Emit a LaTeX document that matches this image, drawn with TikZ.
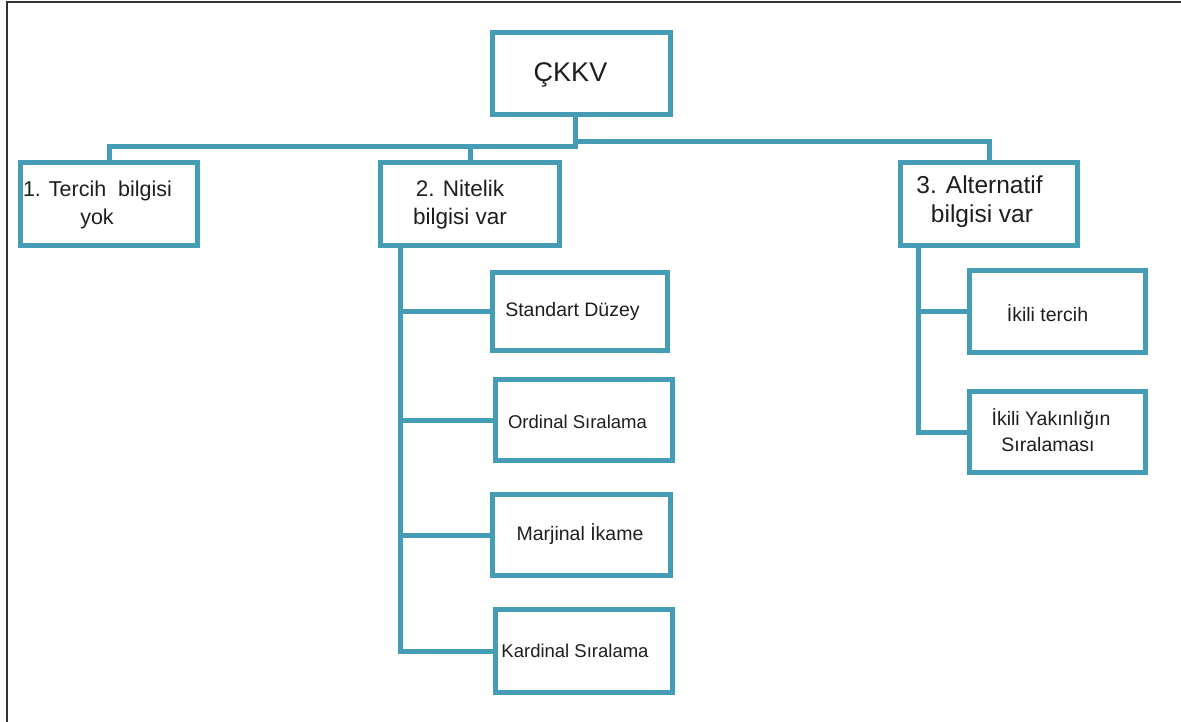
\documentclass[tikz,border=0pt]{standalone}
\usepackage{fontspec}
\setmainfont{Liberation Sans}
\begin{document}
\begin{tikzpicture}[x=1pt,y=-1pt,
  every node/.style={inner sep=0pt,outer sep=0pt},
  box/.style={draw=teal1,line width=5pt,fill=white,rectangle},
  conn/.style={draw=teal1,line width=5pt},
  lbl/.style={anchor=base,text=txt},
  fa/.style={font=\fontsize{27}{32}\selectfont},
  fb/.style={font=\fontsize{21.5}{26}\selectfont},
  fc/.style={font=\fontsize{22.5}{27}\selectfont},
  fd/.style={font=\fontsize{24.5}{29}\selectfont},
  fe/.style={font=\fontsize{19.5}{23}\selectfont},
  ff/.style={font=\fontsize{18.5}{22}\selectfont}]
\definecolor{teal1}{RGB}{68,156,182}
\definecolor{txt}{RGB}{30,30,30}
\definecolor{frame}{RGB}{50,50,50}
\useasboundingbox (0,0) rectangle (1181,722);

% frame edges
\draw[frame,line width=2pt] (7,1) -- (7,722);
\draw[frame,line width=2pt] (6,2) -- (1181,2);

% boxes (outer size minus line width)
\node[box,minimum width=178,minimum height=82] (root) at (581.5,73.5) {};
\node[box,minimum width=177,minimum height=83] (b1) at (109,204) {};
\node[box,minimum width=179,minimum height=83] (b2) at (470,204) {};
\node[box,minimum width=177,minimum height=83] (b3) at (989,204) {};
\node[box,minimum width=175,minimum height=78] (s1) at (580,311.5) {};
\node[box,minimum width=177,minimum height=81] (s2) at (584,420) {};
\node[box,minimum width=178,minimum height=81] (s3) at (581.5,535) {};
\node[box,minimum width=177,minimum height=83] (s4) at (584,651) {};
\node[box,minimum width=176,minimum height=82] (a1) at (1057.5,311.5) {};
\node[box,minimum width=176,minimum height=81] (a2) at (1057.5,432) {};

% junctions and trunks
\coordinate (jl) at (575,147);
\coordinate (jr) at (575,142);
\coordinate (t2) at (400,0);
\coordinate (t3) at (918,0);

% top level connectors
\draw[conn] (root.south -| jl) -- (jl) -| (b1.north);
\draw[conn] (jl) -| (b2.north);
\draw[conn] (jr) -| (b3.north);

% attribute branch
\draw[conn] (b2.south -| t2) |- (s4.west);
\draw[conn] (s1.west -| t2) -- (s1.west);
\draw[conn] (s2.west -| t2) -- (s2.west);
\draw[conn] (s3.west -| t2) -- (s3.west);

% alternative branch
\draw[conn] (b3.south -| t3) |- (a2.west);
\draw[conn] (a1.west -| t3) -- (a1.west);

% texts
\node[lbl,fa] (rootT) at (570.5,82) {ÇKKV};
\node[lbl,fb] (b1T1) at (97.5,197) {1. Tercih\ \ bilgisi};
\node[lbl,fb] (b1T2) at (97,225) {yok};
\node[lbl,fc] (b2T1) at (460,196.5) {2. Nitelik};
\node[lbl,fc] (b2T2) at (460,225) {bilgisi var};
\node[lbl,fd] (b3T1) at (979.5,194) {3. Alternatif};
\node[lbl,fd] (b3T2) at (982,223) {bilgisi var};
\node[lbl,fe] (s1T) at (572.5,316.5) {Standart Düzey};
\node[lbl,ff] (s2T) at (577.5,428) {Ordinal Sıralama};
\node[lbl,fe] (s3T) at (580,540.5) {Marjinal İkame};
\node[lbl,ff] (s4T) at (575,657) {Kardinal Sıralama};
\node[lbl,fe] (a1T) at (1047.5,321.5) {İkili tercih};
\node[lbl,fe] (a2T1) at (1051,425) {İkili Yakınlığın};
\node[lbl,fe] (a2T2) at (1048,451.5) {Sıralaması};
\end{tikzpicture}
\end{document}
